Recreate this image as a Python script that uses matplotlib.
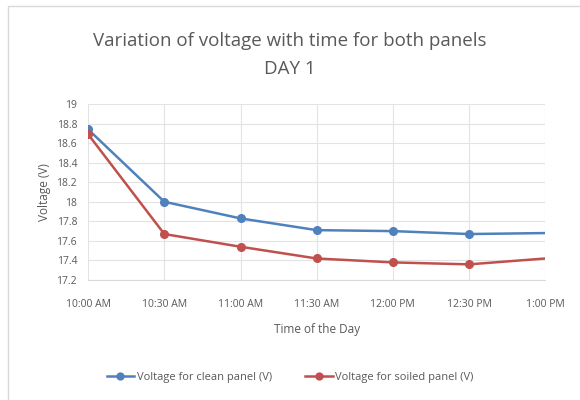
import numpy as np
import matplotlib
matplotlib.use("Agg")
import matplotlib.pyplot as plt
from matplotlib.patches import Rectangle

# ── Data ──────────────────────────────────────────────────────────────────────
times = ["10:00 AM", "10:30 AM", "11:00 AM", "11:30 AM", "12:00 PM", "12:30 PM", "1:00 PM"]
clean_V = [18.74, 18.00, 17.83, 17.71, 17.70, 17.67, 17.68]
soiled_V = [18.69, 17.67, 17.54, 17.42, 17.38, 17.36, 17.42]
y_ticks = [17.2, 17.4, 17.6, 17.8, 18.0, 18.2, 18.4, 18.6, 18.8, 19.0]
y_tick_labels = ["17.2", "17.4", "17.6", "17.8", "18", "18.2", "18.4", "18.6", "18.8", "19"]

plt.rcParams["font.family"] = ["Open Sans", "DejaVu Sans"]
grey = "#595959"

fig = plt.figure(figsize=(5.8, 4.0), dpi=100)
ax = fig.add_axes([0.152, 0.30, 0.788, 0.44])

x = np.arange(len(times))
marks = list(range(len(times) - 1))  # last point has no marker
ax.plot(x, clean_V, color="#4F81BD", lw=1.8, marker="o", ms=5.5, markevery=marks,
        label="Voltage for clean panel (V)")
ax.plot(x, soiled_V, color="#C0504D", lw=1.8, marker="o", ms=5.5, markevery=marks,
        label="Voltage for soiled panel (V)")

ax.set_xlim(0, len(times) - 1)
ax.set_ylim(17.2, 19.0)
ax.set_xticks(x)
ax.set_xticklabels(times, fontsize=7.5, color=grey)
ax.set_yticks(y_ticks)
ax.set_yticklabels(y_tick_labels, fontsize=7.5, color=grey)
ax.tick_params(axis="x", length=0, pad=14)
ax.tick_params(axis="y", length=0, pad=8)
ax.grid(True, color="#E3E3E3", lw=0.8)
ax.set_axisbelow(True)
for s in ["top", "right", "left"]:
    ax.spines[s].set_visible(False)
ax.spines["bottom"].set_color("#D9D9D9")

ax.set_xlabel("Time of the Day", fontsize=8.5, color=grey, labelpad=9)
ax.set_ylabel("Voltage (V)", fontsize=8.5, color=grey, labelpad=4)

fig.text(0.5, 0.897, "Variation of voltage with time for both panels", ha="center",
         va="center", fontsize=13.5, color=grey)
fig.text(0.5, 0.827, "DAY 1", ha="center", va="center", fontsize=13.5, color=grey)

fig.legend(loc="center", bbox_to_anchor=(0.5, 0.056), ncol=2, frameon=False,
           fontsize=8, labelcolor=grey, handlelength=2.5, columnspacing=3.0,
           handletextpad=0.2, markerscale=0.9)

# chart-area frame (right and bottom edges fall outside the picture)
fig.patches.append(Rectangle((0.013, -0.1), 1.2, 1.085, transform=fig.transFigure,
                             fill=False, edgecolor="#D9D9D9", lw=1.0))

fig.savefig("out.png", dpi=100)
